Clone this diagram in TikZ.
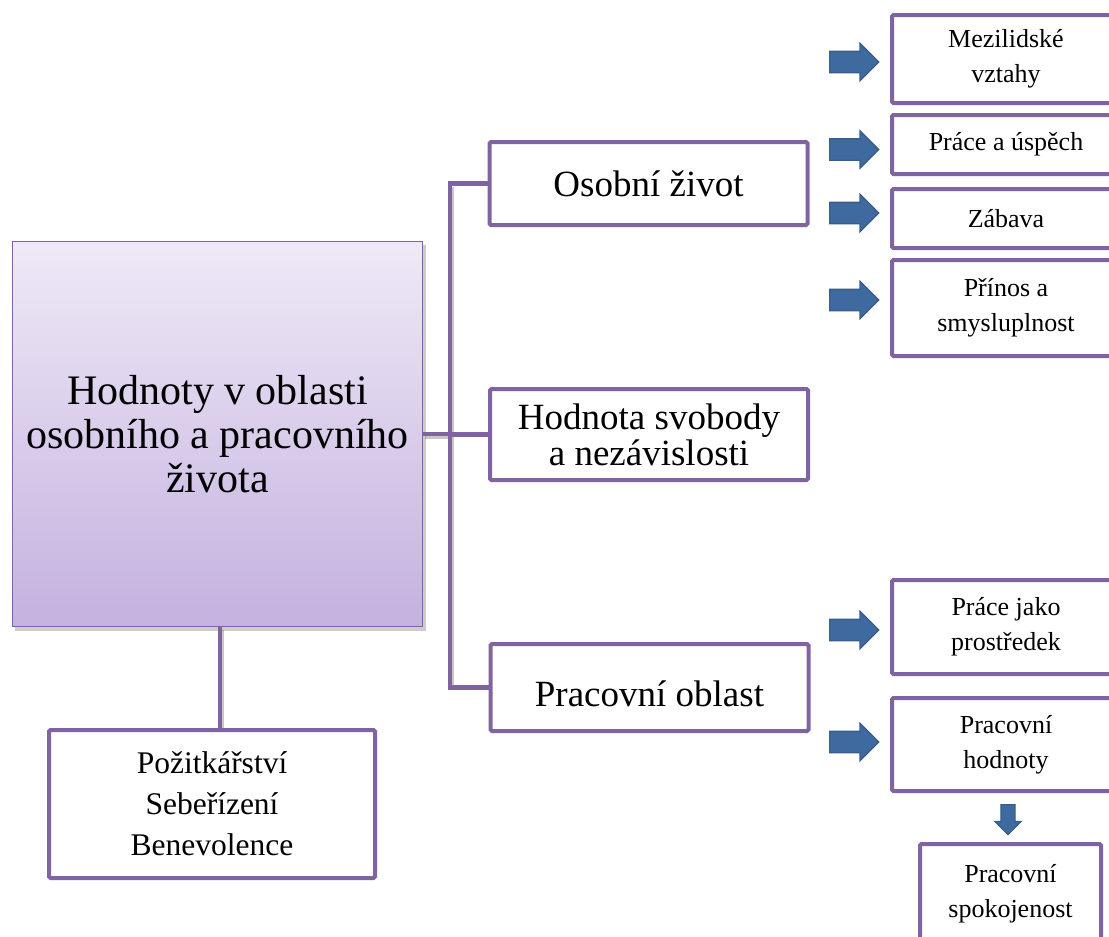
\documentclass[tikz,border=0pt]{standalone}
\usepackage{fontspec}
\setmainfont{Liberation Serif}
\usetikzlibrary{shapes.arrows}
\definecolor{boxpurple}{HTML}{8064A2}
\definecolor{maintop}{HTML}{EFE9F7}
\definecolor{mainbot}{HTML}{C4B1DF}
\definecolor{arrowedge}{HTML}{385D8A}
\definecolor{arrowdark}{HTML}{3F6AA0}
\definecolor{arrowlight}{HTML}{6396D6}
\tikzset{
  box/.style={draw=boxpurple, line width=4pt, fill=white, rounded corners=1.5pt,
    inner sep=0pt, align=center},
  midbox/.style={box, minimum width=318pt, font=\fontsize{37}{36}\selectfont},
  rbox/.style={box, minimum width=228pt, font=\fontsize{26}{35}\selectfont},
  conn/.style={draw=boxpurple, line width=4.5pt},
  connshadow/.style={draw=black, opacity=.22, line width=4.5pt},
  rarrow/.style={single arrow, minimum height=49pt, minimum width=36pt,
    single arrow head extend=8pt, inner xsep=0pt, inner ysep=10pt,
    draw=arrowedge, line width=1.3pt, anchor=tail,
    top color=arrowdark, middle color=arrowlight, bottom color=arrowdark},
  darrow/.style={single arrow, shape border rotate=270, minimum height=30pt,
    minimum width=25pt, single arrow head extend=6pt, inner sep=6.5pt,
    draw=arrowedge, line width=1.2pt, anchor=tail,
    left color=arrowdark, middle color=arrowlight, right color=arrowdark}
}
\begin{document}
\begin{tikzpicture}[x=1pt,y=-1pt]
\useasboundingbox (0,0) rectangle (1109,937);
\clip (0,0) rectangle (1109,937);
\fill[white] (0,0) rectangle (1109,937);

% coordinates for connectors
\coordinate (junc) at (450,434);
\coordinate (stem) at (220,700);

% shadows
\fill[black, opacity=.2] (15,245) rectangle (426,631);
\draw[connshadow] (425,436.5) -- (452,436.5) (452,187) -- (452,689.5);
\draw[connshadow] (222,630) -- (222,730);

% main box
\node[draw=boxpurple, line width=1.8pt, top color=maintop, bottom color=mainbot,
  minimum width=410pt, minimum height=385pt, inner sep=0pt, align=center,
  font=\fontsize{42}{44}\selectfont] (main) at (217.5,434)
  {Hodnoty v oblasti\\osobního a pracovního\\života};

% middle boxes
\node[midbox, minimum height=83pt] (osobni) at (648.5,183.5) {Osobní život};
\node[midbox, minimum height=91pt] (svoboda) at (649,434.5) {Hodnota svobody\\a nezávislosti};
\node[midbox, minimum height=87pt, text height=39pt] (pracovni) at (649.5,687.5) {Pracovní oblast};

% bottom-left box
\node[box, minimum width=326pt, minimum height=148pt,
  font=\fontsize{31.5}{41}\selectfont] (hodnoty) at (212,804)
  {Požitkářství\\Sebeřízení\\Benevolence};

% right boxes
\node[rbox, minimum height=88pt] (mezi) at (1006,59) {Mezilidské\\vztahy};
\node[rbox, minimum height=59pt] (uspech) at (1006,144.5) {Práce a úspěch};
\node[rbox, minimum height=59pt] (zabava) at (1006,218.5) {Zábava};
\node[rbox, minimum height=96pt] (prinos) at (1006,308) {Přínos a\\smysluplnost};
\node[rbox, minimum height=94pt] (prostredek) at (1006,627) {Práce jako\\prostředek};
\node[rbox, minimum height=93pt] (phodnoty) at (1006,744.5) {Pracovní\\hodnoty};
\node[box, minimum width=181pt, minimum height=100pt,
  font=\fontsize{26}{35}\selectfont] (spokojenost) at (1010.5,894)
  {Pracovní\\spokojenost};

% connectors
\draw[conn] (main.east) -- (junc);
\draw[conn] (junc) |- (osobni.west);
\draw[conn] (junc) |- (svoboda.west);
\draw[conn] (junc) |- (pracovni.west);
\draw[conn] (main.south -| stem) -- (hodnoty.north -| stem);

% block arrows
\node[rarrow] (a1) at (829,62) {};
\node[rarrow] (a2) at (829,149.5) {};
\node[rarrow] (a3) at (829,213) {};
\node[rarrow] (a4) at (829,300) {};
\node[rarrow] (a5) at (829,630) {};
\node[rarrow] (a6) at (829,742) {};
\node[darrow] (a7) at (1008,804) {};
\end{tikzpicture}
\end{document}
